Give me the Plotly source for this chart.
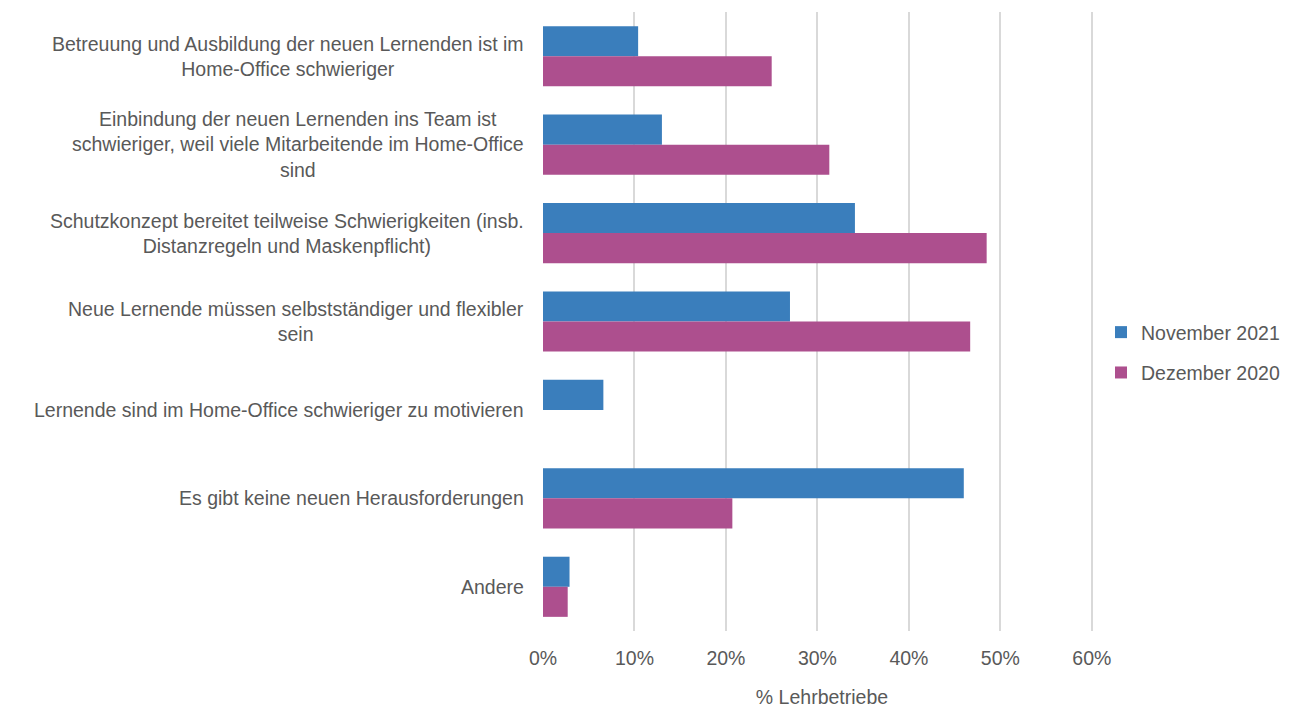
import plotly.graph_objects as go

categories = [
    "Betreuung und Ausbildung der neuen Lernenden ist im<br>Home-Office schwieriger",
    "Einbindung der neuen Lernenden ins Team ist<br>schwieriger, weil viele Mitarbeitende im Home-Office<br>sind",
    "Schutzkonzept bereitet teilweise Schwierigkeiten (insb.<br>Distanzregeln und Maskenpflicht)",
    "Neue Lernende müssen selbstständiger und flexibler<br>sein",
    "Lernende sind im Home-Office schwieriger zu motivieren",
    "Es gibt keine neuen Herausforderungen",
    "Andere",
]
nov_2021 = [0.104, 0.130, 0.341, 0.270, 0.066, 0.460, 0.029]
dez_2020 = [0.250, 0.313, 0.485, 0.467, None, 0.207, 0.027]

series_names = ["November 2021", "Dezember 2020"]
colors = ["#3A7EBC", "#AD4F8E"]

FONT = "Liberation Sans, Arial, sans-serif"
GREY = "#595959"
FS = 19.5

fig = go.Figure()
for name, vals, col in zip(series_names, [nov_2021, dez_2020], colors):
    fig.add_trace(go.Bar(
        y=categories, x=vals, name=name, orientation="h", legendgroup=name,
        marker=dict(color=col, line=dict(width=0)),
    ))

for c in categories:
    fig.add_annotation(
        x=0, xref="paper", y=c, yref="y", text=c, showarrow=False,
        xanchor="right", yanchor="middle", align="center", xshift=-17,
        font=dict(family=FONT, size=FS, color=GREY),
    )

fig.update_layout(
    width=1281, height=700,
    margin=dict(l=535, r=185, t=4, b=77),
    paper_bgcolor="white", plot_bgcolor="white",
    barmode="group", bargap=0.32, bargroupgap=0,
    font=dict(family=FONT, size=FS, color=GREY),
    legend=dict(x=1.0, xanchor="left", y=0.45, yanchor="middle",
                traceorder="grouped", tracegroupgap=12,
                font=dict(family=FONT, size=FS, color=GREY),
                itemwidth=30),
    xaxis=dict(
        range=[0, 0.61], tickvals=[0, 0.1, 0.2, 0.3, 0.4, 0.5, 0.6],
        tickformat=".0%", automargin=False,
        showgrid=True, gridcolor="#D9D9D9", gridwidth=2,
        zeroline=False, showline=False,
        ticks="outside", ticklen=10, tickcolor="rgba(0,0,0,0)",
        tickfont=dict(family=FONT, size=FS, color=GREY),
        title=dict(text="% Lehrbetriebe", standoff=25,
                   font=dict(family=FONT, size=FS, color=GREY)),
    ),
    yaxis=dict(
        autorange="reversed", showticklabels=False, automargin=False,
        showgrid=False, zeroline=False, showline=False,
    ),
)

fig.write_html("out.html")
